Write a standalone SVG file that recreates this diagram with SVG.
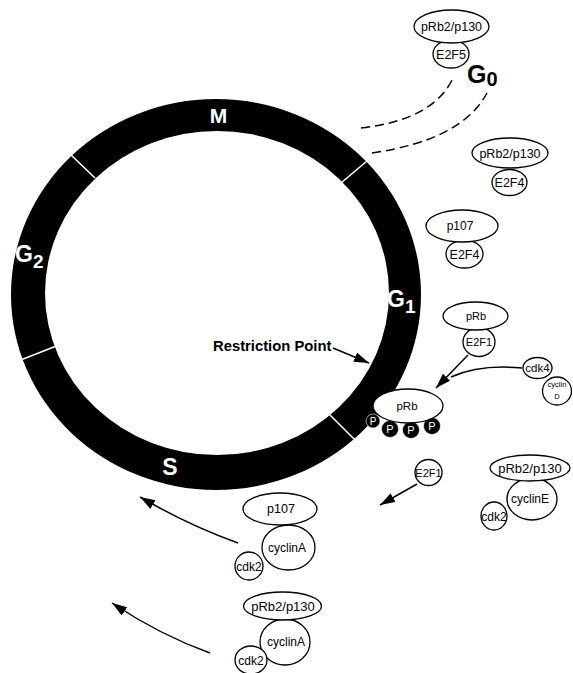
<svg xmlns="http://www.w3.org/2000/svg" width="573" height="673" viewBox="0 0 573 673">
<style>
.n{fill:#fff;stroke:#000;stroke-width:1.3}
.t{font-family:"Liberation Sans",Arial,sans-serif;fill:#000;text-anchor:middle}
.ph{font-family:"Liberation Sans",Arial,sans-serif;font-weight:bold;fill:#fff}
.c{fill:none;stroke:#000;stroke-width:1.5}
.d{fill:none;stroke:#000;stroke-width:1.5;stroke-dasharray:9 5}
.div{stroke:#fff;stroke-width:1.6}
.p{fill:#000;stroke:#fff;stroke-width:0.6}
.pt{font-family:"Liberation Sans",Arial,sans-serif;fill:#fff;text-anchor:middle}
</style>
<defs>
<marker id="ah" markerUnits="userSpaceOnUse" markerWidth="16" markerHeight="12" refX="15" refY="5" orient="auto">
<path d="M0,0 L15,5 L0,10 z" fill="#000"/>
</marker>
</defs>
<rect width="573" height="673" fill="#fff"/>

<g id="cycle">
<path fill="#000" fill-rule="evenodd" d="M11,294.5 a205,195.5 0 1,0 410,0 a205,195.5 0 1,0 -410,0 z M45,293 a172,162 0 1,0 344,0 a172,162 0 1,0 -344,0 z"/>
<line class="div" x1="71" y1="155" x2="95" y2="178"/>
<line class="div" x1="367" y1="161" x2="341" y2="183"/>
<line class="div" x1="22" y1="359.5" x2="55" y2="346.5"/>
<line class="div" x1="329" y1="414" x2="355" y2="440"/>
<text class="ph" x="218.5" y="123" font-size="21" text-anchor="middle">M</text>
<text class="ph" x="170" y="475" font-size="23" text-anchor="middle">S</text>
<text class="ph" x="15" y="262" font-size="23">G<tspan font-size="19" dy="6">2</tspan></text>
<text class="ph" x="387" y="307" font-size="23">G<tspan font-size="19" dy="6">1</tspan></text>
</g>

<g id="G0label">
<text x="467" y="83" font-family="'Liberation Sans',Arial,sans-serif" font-weight="bold" font-size="25" fill="#000">G<tspan font-size="20" dy="3">0</tspan></text>
</g>

<g id="restriction">
<text x="213" y="351" font-family="'Liberation Sans',Arial,sans-serif" font-weight="bold" font-size="14.8" fill="#000">Restriction Point</text>
</g>

<g id="connectors">
<path class="d" d="M361,128 Q432,120 452,80"/>
<path class="d" d="M372,153 Q462,140 487,93"/>
<line class="c" x1="333" y1="348" x2="369" y2="363" marker-end="url(#ah)"/>
<line class="c" x1="468" y1="355" x2="436" y2="388" marker-end="url(#ah)"/>
<path class="c" d="M522,368 Q480,364 451,377"/>
<line class="c" x1="417" y1="484" x2="380" y2="505" marker-end="url(#ah)"/>
<path class="c" d="M238,543 Q188,525 140,497" marker-end="url(#ah)"/>
<path class="c" d="M210,653 Q160,635 112,603" marker-end="url(#ah)"/>
</g>

<g id="node-pRb2-E2F5">
<ellipse class="n" cx="451" cy="54" rx="18" ry="14"/>
<ellipse class="n" cx="451.5" cy="26.5" rx="37.5" ry="16.5"/>
<text class="t" x="451.5" y="31" font-size="12.5">pRb2/p130</text>
<text class="t" x="451" y="58.5" font-size="12.5">E2F5</text>
</g>

<g id="node-pRb2-E2F4">
<ellipse class="n" cx="509.5" cy="182.5" rx="17.5" ry="13"/>
<ellipse class="n" cx="510" cy="153" rx="38" ry="15"/>
<text class="t" x="510" y="157.5" font-size="12.5">pRb2/p130</text>
<text class="t" x="509.5" y="187" font-size="12.5">E2F4</text>
</g>

<g id="node-p107-E2F4">
<ellipse class="n" cx="464.5" cy="254" rx="18.5" ry="14"/>
<ellipse class="n" cx="462" cy="226" rx="36" ry="16"/>
<text class="t" x="460" y="230" font-size="12">p107</text>
<text class="t" x="464.5" y="258.5" font-size="12.5">E2F4</text>
</g>

<g id="node-pRb-E2F1">
<ellipse class="n" cx="479" cy="342" rx="16" ry="14.5"/>
<ellipse class="n" cx="475.5" cy="316" rx="32.5" ry="14"/>
<text class="t" x="476" y="320" font-size="11">pRb</text>
<text class="t" x="479" y="346" font-size="11">E2F1</text>
</g>

<g id="node-cdk4-cyclinD">
<ellipse class="n" cx="537.5" cy="368" rx="14.5" ry="10.5"/>
<ellipse class="n" cx="557" cy="391" rx="14.5" ry="14"/>
<text class="t" x="537.5" y="372" font-size="11.5">cdk4</text>
<text class="t" x="557" y="387" font-size="7.5">cyclin</text>
<text class="t" x="557" y="398.5" font-size="7.5">D</text>
</g>

<g id="node-pRb-P">
<circle class="p" cx="373" cy="421" r="7"/>
<circle class="p" cx="390" cy="429" r="8.5"/>
<circle class="p" cx="411" cy="430" r="8.5"/>
<circle class="p" cx="432" cy="426" r="8.5"/>
<ellipse class="n" cx="408" cy="406" rx="35" ry="17"/>
<text class="t" x="407" y="410" font-size="11.5">pRb</text>
<text class="pt" x="373" y="424.5" font-size="10">P</text>
<text class="pt" x="390" y="433" font-size="11">P</text>
<text class="pt" x="411" y="434" font-size="11">P</text>
<text class="pt" x="432" y="430" font-size="11">P</text>
</g>

<g id="node-E2F1">
<ellipse class="n" cx="428.5" cy="472.5" rx="13.5" ry="13"/>
<text class="t" x="428.5" y="476.5" font-size="11">E2F1</text>
</g>

<g id="node-pRb2-cyclinE-cdk2">
<ellipse class="n" cx="532" cy="499" rx="25" ry="21"/>
<ellipse class="n" cx="494" cy="516" rx="13" ry="14"/>
<ellipse class="n" cx="530" cy="468" rx="40" ry="13"/>
<text class="t" x="530" y="472.5" font-size="13">pRb2/p130</text>
<text class="t" x="530" y="503" font-size="12">cyclinE</text>
<text class="t" x="494" y="520.5" font-size="12">cdk2</text>
</g>

<g id="node-p107-cyclinA-cdk2">
<ellipse class="n" cx="288.5" cy="547.5" rx="26.5" ry="22.5"/>
<ellipse class="n" cx="249" cy="566" rx="14" ry="14"/>
<ellipse class="n" cx="280" cy="509" rx="37" ry="16"/>
<text class="t" x="281" y="513" font-size="12.5">p107</text>
<text class="t" x="287" y="552" font-size="12">cyclinA</text>
<text class="t" x="249" y="570.5" font-size="12">cdk2</text>
</g>

<g id="node-pRb2-cyclinA-cdk2">
<ellipse class="n" cx="285" cy="642" rx="25" ry="23"/>
<ellipse class="n" cx="251" cy="660" rx="16" ry="14"/>
<ellipse class="n" cx="282.5" cy="606" rx="39" ry="14"/>
<text class="t" x="283" y="610.5" font-size="13">pRb2/p130</text>
<text class="t" x="286" y="646" font-size="12">cyclinA</text>
<text class="t" x="251" y="664.5" font-size="12">cdk2</text>
</g>
</svg>
